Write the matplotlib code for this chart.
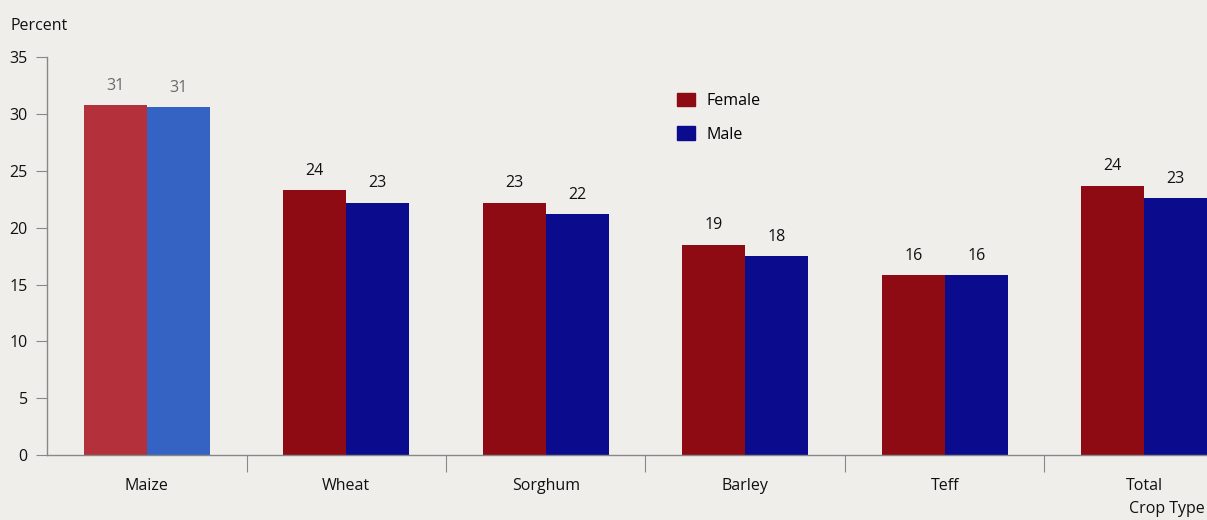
import numpy as np
import matplotlib
matplotlib.use("Agg")
import matplotlib.pyplot as plt
from matplotlib.patches import Patch

crops = ["Maize", "Wheat", "Sorghum", "Barley", "Teff", "Total"]
female = [30.8, 23.3, 22.2, 18.5, 15.8, 23.7]
male = [30.6, 22.2, 21.2, 17.5, 15.8, 22.6]
female_labels = [31, 24, 23, 19, 16, 24]
male_labels = [31, 23, 22, 18, 16, 23]

plt.rcParams["font.family"] = ["Open Sans", "DejaVu Sans"]
bg = "#efeeea"
red = "#8e0b14"
blue = "#0b0b8e"
# the first pair prints lighter in the source
red_cols = ["#b4303a"] + [red] * 5
blue_cols = ["#3563c4"] + [blue] * 5

fig = plt.figure(figsize=(12.07, 5.2), dpi=100, facecolor=bg)
ax = fig.add_axes([0.039, 0.125, 0.961, 0.765], facecolor=bg)

x = np.arange(len(crops))
w = 0.316
ax.bar(x - w / 2, female, w, color=red_cols)
ax.bar(x + w / 2, male, w, color=blue_cols)

for i in range(len(crops)):
    c = "#6a6a6a" if i == 0 else "#111111"
    ax.text(x[i] - w / 2, female[i] + 1.0, str(female_labels[i]), ha="center",
            va="bottom", fontsize=11.5, color=c)
    ax.text(x[i] + w / 2, male[i] + 1.0, str(male_labels[i]), ha="center",
            va="bottom", fontsize=11.5, color=c)

ax.set_xlim(-0.5, 5.315)
ax.set_ylim(0, 35)
ax.set_yticks(range(0, 36, 5))
ax.tick_params(axis="y", length=8, color="#888888", labelsize=11.5, pad=6,
               labelcolor="#111111")
ax.set_xticks(np.arange(0.5, 5.5, 1))
ax.set_xticklabels([])
ax.tick_params(axis="x", length=12, color="#888888")
for i, name in enumerate(crops):
    ax.text(x[i], -2.0, name, ha="center", va="top", fontsize=11.5, color="#111111")

for s in ["top", "right"]:
    ax.spines[s].set_visible(False)
for s in ["left", "bottom"]:
    ax.spines[s].set_color("#888888")
    ax.spines[s].set_linewidth(1)

fig.text(0.009, 0.935, "Percent", fontsize=11.5, ha="left", va="bottom", color="#111111")
fig.text(0.998, 0.005, "Crop Type", fontsize=11.5, ha="right", va="bottom", color="#111111")

handles = [Patch(color=red, label="Female"), Patch(color=blue, label="Male")]
ax.legend(handles=handles, loc="upper left", bbox_to_anchor=(0.531, 0.947),
          frameon=False, fontsize=11.5, handlelength=1.1, handleheight=0.9,
          labelspacing=1.1, handletextpad=0.7)

fig.savefig("out.png", dpi=100, facecolor=bg)
